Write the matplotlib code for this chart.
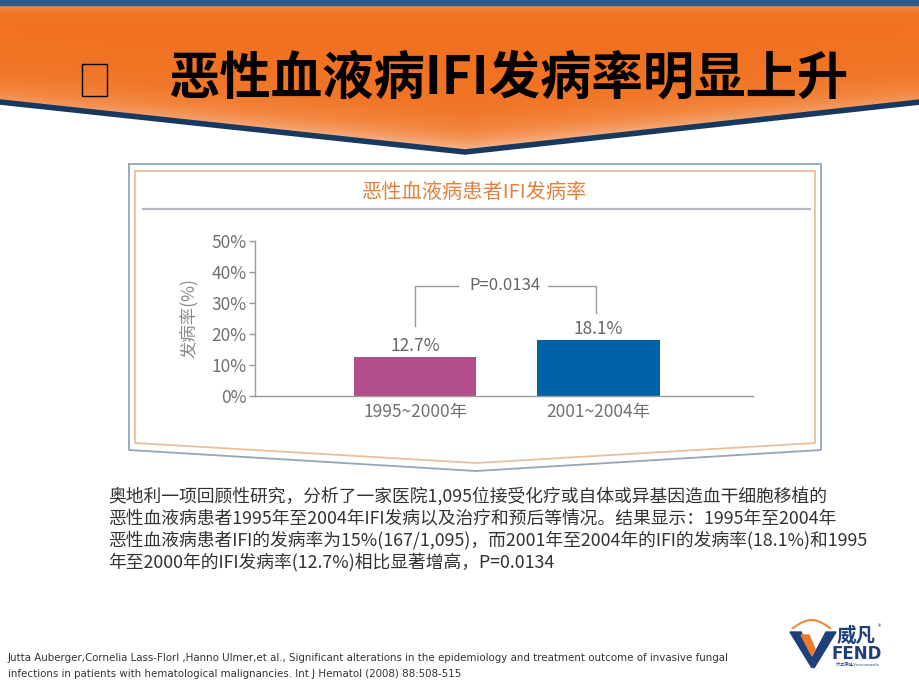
import numpy as np
import matplotlib.pyplot as plt
from matplotlib.patches import Polygon, Rectangle

plt.rcParams['font.family'] = ['Noto Sans CJK SC', 'DejaVu Sans']

# chart data
periods = ['1995~2000年', '2001~2004年']
rates = [12.7, 18.1]
bar_colors = ['#b44d8b', '#0062a8']
y_ticks = [0, 10, 20, 30, 40, 50]
p_text = 'P=0.0134'

page_title = '恶性血液病IFI发病率明显上升'
chart_title = '恶性血液病患者IFI发病率'
y_label = '发病率(%)'
body_lines = [
    '奥地利一项回顾性研究，分析了一家医院1,095位接受化疗或自体或异基因造血干细胞移植的',
    '恶性血液病患者1995年至2004年IFI发病以及治疗和预后等情况。结果显示：1995年至2004年',
    '恶性血液病患者IFI的发病率为15%(167/1,095)，而2001年至2004年的IFI的发病率(18.1%)和1995',
    '年至2000年的IFI发病率(12.7%)相比显著增高，P=0.0134',
]
ref_lines = [
    'Jutta Auberger,Cornelia Lass-Florl ,Hanno Ulmer,et al., Significant alterations in the '
    'epidemiology and treatment outcome of invasive fungal',
    'infections in patients with hematological malignancies. Int J Hematol (2008) 88:508-515',
]

fig = plt.figure(figsize=(9.2, 6.9), dpi=100)

# background layer in pixel coordinates
bg = fig.add_axes([0, 0, 1, 1])
bg.set_xlim(0, 920)
bg.set_ylim(690, 0)
bg.axis('off')

# header band: orange gradient with a chevron bottom
W, H = 920, 160
xx, yy = np.meshgrid(np.arange(W), np.arange(H))
tip_x = 465
edge = 100 + 50 * (1 - np.abs(xx - tip_x) / np.where(xx < tip_x, tip_x, W - tip_x))
d = edge - yy
w = np.clip(np.exp(-np.clip(d, 0, None) / 16), 0, 1) * (0.45 + 0.4 * (1 - np.abs(xx - tip_x) / tip_x))
w = w + 0.3 * np.exp(-np.clip(yy - 5, 0, None) / 5)
w = np.clip(w, 0, 1)[..., None]
orange = np.array([240, 114, 33]) / 255
peach = np.array([250, 198, 165]) / 255
img = orange * (1 - w) + peach * w
head = Polygon([(0, 4), (920, 4), (920, 100), (tip_x, 150), (0, 100)], closed=True,
               facecolor='none', edgecolor='none')
bg.add_patch(head)
im = bg.imshow(img, extent=(0, W, H, 0), aspect='auto', zorder=1)
im.set_clip_path(head)
bg.set_xlim(0, 920)
bg.set_ylim(690, 0)
bg.add_patch(Rectangle((0, 0), 920, 5, color='#2b5a88', zorder=2))
bg.plot([0, tip_x, 920], [102, 152, 102], color='#17395f', lw=4, zorder=2,
        solid_joinstyle='miter')

bg.add_patch(Rectangle((82, 64), 25, 32, fill=False, edgecolor='black', lw=1, zorder=3))
bg.text(168, 78, page_title, fontsize=37, fontweight='bold', color='black',
        ha='left', va='center', zorder=3)

# chart frame
bg.plot([129, 821, 821, 476, 129, 129], [164, 164, 450, 471, 450, 164],
        color='#93a6ba', lw=1.3, zorder=2)
bg.plot([135, 815, 815, 476, 135, 135], [171, 171, 443, 463, 443, 171],
        color='#ebbf9c', lw=1.3, zorder=2)
bg.plot([143, 810], [209, 209], color='#b3b9bf', lw=1.6, zorder=2)
bg.text(475, 192, chart_title, fontsize=14.6, fontweight='medium', color='#e0833e',
        ha='center', va='center', zorder=3)

# body paragraph
for i, line in enumerate(body_lines):
    bg.text(108, 496 + i * 22, line, fontsize=12.8, color='#333333', ha='left',
            va='center', zorder=3)

# reference
for i, line in enumerate(ref_lines):
    bg.text(8, 658 + i * 16, line, fontsize=7.4, color='#333333', ha='left', va='center',
            family=['Liberation Sans Narrow', 'DejaVu Sans'], zorder=3)

# logo
blue = '#1f3f7a'
t = np.linspace(0, 1, 30)
bg.plot(793 + 37 * t, 628 - 8 * np.sin(np.pi * t), color='#f08a3a', lw=1.5, zorder=3)
bg.add_patch(Polygon([(790, 632), (801, 632), (813, 658), (812, 668)], color=blue, zorder=3))
bg.add_patch(Polygon([(801, 635), (809, 635), (815, 649), (812, 656)], color='#f07a2a',
                     zorder=4))
bg.add_patch(Polygon([(826, 632), (836, 632), (814, 668), (811, 660)], color=blue, zorder=3))
bg.text(856, 636, '威凡', fontsize=14, fontweight='bold', color=blue, ha='center',
        va='center', zorder=3)
bg.text(880, 627, '®', fontsize=5, color=blue, ha='center', va='center', zorder=3)
bg.text(857, 654, 'FEND', fontsize=12, fontweight='bold', color=blue, ha='center',
        va='center', family=['DejaVu Sans'], zorder=3)
bg.text(857, 665, '伏立康唑 Voriconazole', fontsize=3, color=blue, ha='center',
        va='center', zorder=3)

# bar chart
ax = fig.add_axes([255 / 920, (690 - 396) / 690, (753 - 255) / 920, (396 - 241) / 690])
ax.patch.set_alpha(0)
x = np.arange(len(periods))
ax.bar(x, rates, width=0.67, color=bar_colors, zorder=2)
ax.set_xlim(-0.872, 1.842)
ax.set_ylim(0, 50)
ax.set_yticks(y_ticks)
ax.set_yticklabels([f'{v}%' for v in y_ticks])
ax.set_xticks(x)
ax.set_xticklabels(periods)
for s in ['top', 'right']:
    ax.spines[s].set_visible(False)
for s in ['left', 'bottom']:
    ax.spines[s].set_color('#9a9a9a')
    ax.spines[s].set_linewidth(1)
ax.tick_params(axis='y', length=4, width=1, color='#9a9a9a', labelcolor='#707070',
               labelsize=12.5, pad=2)
ax.tick_params(axis='x', length=0, labelcolor='#707070', labelsize=12.5, pad=5)
ax.set_ylabel(y_label, fontsize=12.5, color='#8a8a8a', labelpad=9)

for xi, v in zip(x, rates):
    ax.annotate(f'{v}%', (xi, v), xytext=(0, 1.5), textcoords='offset points',
                ha='center', va='bottom', fontsize=12.5, color='#666666')

# significance bracket
top = 35.5
ax.plot([0, 0, 0.234], [rates[0] + 10, top, top], color='#9a9a9a', lw=1)
ax.plot([0.725, 0.985, 0.985], [top, top, rates[1] + 8.7], color='#9a9a9a', lw=1)
ax.text(0.488, top, p_text, fontsize=12, color='#666666', ha='center', va='center')

fig.savefig('out.png', dpi=100)
